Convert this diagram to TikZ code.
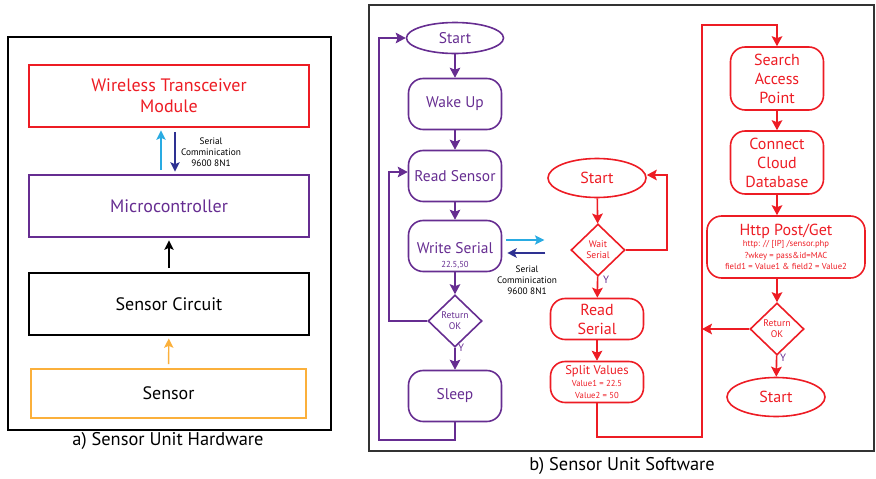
\documentclass[tikz,border=0pt]{standalone}
\usepackage{fontspec}
\setmainfont{PT Sans}
\usetikzlibrary{arrows.meta,shapes.geometric}
\definecolor{flowpurple}{HTML}{662D91}
\definecolor{flowred}{HTML}{ED1C24}
\definecolor{linkcyan}{HTML}{29ABE2}
\definecolor{linkblue}{HTML}{2E3192}
\definecolor{sensorange}{HTML}{FBB03B}
\begin{document}
\begin{tikzpicture}[x=0.75pt,y=-0.75pt,
		hwbox/.style={draw,line width=1.2pt,minimum width=210pt,minimum height=46.5pt,align=center,font=\fontsize{13.5}{15.5}\selectfont},
		pstep/.style={draw=flowpurple,text=flowpurple,line width=1.2pt,rounded corners=11pt,minimum width=69.75pt,minimum height=38.25pt,inner sep=1pt,align=center,font=\fontsize{11.6}{13.5}\selectfont},
		pstart/.style={ellipse,draw=flowpurple,text=flowpurple,line width=1.2pt,minimum width=72.75pt,minimum height=23.25pt,inner sep=0pt,font=\fontsize{11.6}{13.5}\selectfont},
		pask/.style={diamond,draw=flowpurple,text=flowpurple,line width=1.2pt,minimum width=40.5pt,minimum height=39pt,inner sep=0pt,align=center,font=\fontsize{7.2}{8.4}\selectfont},
		rstep/.style={draw=flowred,text=flowred,line width=1.2pt,rounded corners=11pt,minimum width=69.75pt,minimum height=30.75pt,inner sep=1pt,align=center,font=\fontsize{12}{14.25}\selectfont},
		rstart/.style={ellipse,draw=flowred,text=flowred,line width=1.2pt,minimum width=73.5pt,minimum height=29.25pt,inner sep=0pt,font=\fontsize{12}{14}\selectfont},
		rask/.style={diamond,draw=flowred,text=flowred,line width=1.2pt,minimum width=40.5pt,minimum height=39pt,inner sep=0pt,align=center,font=\fontsize{7.2}{8.4}\selectfont},
		pflow/.style={draw=flowpurple,line width=1.2pt,-{Stealth[length=7.5pt,width=8pt,inset=1.5pt]}},
		rflow/.style={draw=flowred,line width=1.2pt,-{Stealth[length=7.5pt,width=8pt,inset=1.5pt]}},
		hwflow/.style={line width=1.1pt,shorten <=3pt,shorten >=2pt,-{Stealth[length=7pt,width=7pt,inset=1.5pt]}},
		commtext/.style={align=center,inner sep=0pt,font=\fontsize{7}{8.4}\selectfont},
		ylab/.style={text=flowpurple,inner sep=0pt,font=\fontsize{8}{9}\selectfont}]
	\useasboundingbox (0,0) rectangle (876,479);
	\draw [line width=1.2pt] (8,37) rectangle (331,430);
	\draw [line width=1.5pt,black!80] (369,5) rectangle (874,451);
	\node (capa) at (168,441) {\fontsize{13.8}{16}\selectfont a) Sensor Unit Hardware};
	\node (capb) at (622,466) {\fontsize{13.8}{16}\selectfont b) Sensor Unit Software};

	\node [hwbox,draw=flowred,text=flowred] (wtm) at (169,96) {Wireless Transceiver\\Module};
	\node [hwbox,draw=flowpurple,text=flowpurple] (mcu) at (169,206) {Microcontroller};
	\node [hwbox] (circ) at (169,304) {Sensor Circuit};
	\node [hwbox,draw=sensorange,minimum width=206pt,minimum height=36.75pt] (sens) at (168.5,393.5) {Sensor};
	\draw [hwflow,linkcyan] ([xshift=-6pt]mcu.north) -- ([xshift=-6pt]wtm.south);
	\draw [hwflow,linkblue] ([xshift=4.5pt]wtm.south) -- ([xshift=4.5pt]mcu.north);
	\node [commtext] (hwcomm) at (211,152) {Serial\\Comminication\\9600 8N1};
	\draw [hwflow] (circ) -- (mcu);
	\draw [hwflow,sensorange] (sens) -- (circ);

	\node [pstart] (pbegin) at (455,38) {Start};
	\node [pstep] (wake) at (455,104) {Wake Up};
	\node [pstep] (rsens) at (455,176) {Read Sensor};
	\node [pstep] (wser) at (455,246) {\rule{0pt}{22pt}Write Serial\\[-3pt]{\fontsize{6.5}{7}\selectfont 22.5,50}};
	\node [pask] (pok) at (455,321) {Return\\OK};
	\node [pstep] (sleep) at (455,396) {Sleep};
	\node [ylab] (py) at (461,348) {Y};
	\coordinate (pbot) at (379,440);
	\coordinate (rsin) at (389,172);
	\draw [pflow] (pbegin) -- (wake);
	\draw [pflow] (wake) -- (rsens);
	\draw [pflow] (rsens) -- (wser);
	\draw [pflow] (wser) -- (pok);
	\draw [pflow] (pok) -- (sleep);
	\draw [pflow] (sleep.south) |- (pbot) |- (pbegin.west);
	\draw [pflow] (pok.west) -| (rsin) -- (rsin -| rsens.west);

	\draw [line width=1.2pt,linkcyan,-{Stealth[length=7pt,width=7pt,inset=1.5pt]}] ([shift={(4,-6)}]wser.east) -- ++(38,0);
	\draw [line width=1.2pt,linkblue,-{Stealth[length=7pt,width=7pt,inset=1.5pt]}] ([shift={(43,7)}]wser.east) -- ++(-38,0);
	\node [commtext] (swcomm) at (527,280) {Serial\\Comminication\\9600 8N1};

	\node [rstart] (rbegin) at (597,178) {Start};
	\node [rask] (wait) at (598,250) {Wait\\Serial};
	\node [rstep] (rser) at (597,319) {Read\\Serial};
	\node [rstep] (split) at (597,382) {{\fontsize{9.5}{11}\selectfont Split Values}\\[-5.25pt]{\fontsize{6.5}{7.5}\selectfont Value1 = 22.5}\\[-5.25pt]{\fontsize{6.5}{7.5}\selectfont Value2 = 50}};
	\node [ylab] (wy) at (606,280) {Y};
	\coordinate (rwin) at (667,175);
	\draw [rflow] (rbegin) -- (wait);
	\draw [rflow] (wait) -- (rser);
	\draw [rflow] (rser) -- (split);
	\draw [rflow] (wait.east) -| (rwin) -- (rwin -| rbegin.east);

	\node [rstep,minimum height=47.25pt] (sap) at (777,78.5) {Search\\Access\\Point};
	\node [rstep,minimum height=47.25pt] (ccd) at (777,162.5) {Connect\\Cloud\\Database};
	\node [rstep,minimum width=118.5pt,minimum height=46.5pt] (http) at (786,247) {Http Post/Get\\[-6pt]{\fontsize{6.5}{8}\selectfont http: // [IP] /sensor.php}\\[-5.6pt]{\fontsize{6.5}{8}\selectfont ?wkey = pass\&id=MAC}\\[-5.6pt]{\fontsize{6.5}{8}\selectfont field1 = Value1 \& field2 = Value2}};
	\node [rask] (rok) at (777,329) {Return\\OK};
	\node [rstart] (rend) at (776,397) {Start};
	\node [ylab] (ry) at (783,358) {Y};
	\coordinate (rbot) at (702,437);
	\coordinate (rtop) at (702,25);
	\draw [rflow] (split.south) |- (rbot) -- (rtop) -| (sap.north);
	\draw [rflow] (sap) -- (ccd);
	\draw [rflow] (ccd.south) -- (ccd.south |- http.north);
	\draw [rflow] (rok.north |- http.south) -- (rok.north);
	\draw [rflow] (rok) -- (rend);
	\draw [rflow] (rok.west) -- (rtop |- rok.west);
\end{tikzpicture}
\end{document}
